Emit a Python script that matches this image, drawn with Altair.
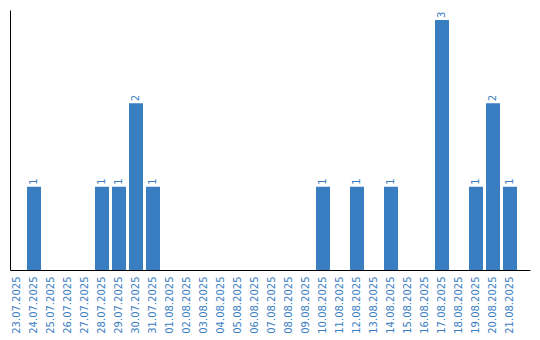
import altair as alt
import pandas as pd

dates = ["23.07.2025", "24.07.2025", "25.07.2025", "26.07.2025", "27.07.2025",
         "28.07.2025", "29.07.2025", "30.07.2025", "31.07.2025", "01.08.2025",
         "02.08.2025", "03.08.2025", "04.08.2025", "05.08.2025", "06.08.2025",
         "07.08.2025", "08.08.2025", "09.08.2025", "10.08.2025", "11.08.2025",
         "12.08.2025", "13.08.2025", "14.08.2025", "15.08.2025", "16.08.2025",
         "17.08.2025", "18.08.2025", "19.08.2025", "20.08.2025", "21.08.2025"]
counts = [0, 1, 0, 0, 0, 1, 1, 2, 1, 0,
          0, 0, 0, 0, 0, 0, 0, 0, 1, 0,
          1, 0, 1, 0, 0, 3, 0, 1, 2, 1]

df = pd.DataFrame({"date": dates, "count": counts})

BLUE = "#3a7ec2"
FONT = "DejaVu Sans"

x = alt.X("date:N", sort=dates, title=None,
          scale=alt.Scale(domain=dates, paddingInner=0.176, paddingOuter=0.382, align=0),
          axis=alt.Axis(labelAngle=-90, ticks=False, labelPadding=6, labelFont=FONT,
                        labelFontSize=10, labelColor=BLUE, domainColor="black",
                        domainWidth=1, grid=False, labelOverlap=False))
y = alt.Y("count:Q", title=None,
          scale=alt.Scale(domain=[0, 3.12], nice=False, zero=True),
          axis=alt.Axis(labels=False, ticks=False, grid=False, domainColor="black",
                        domainWidth=1))

base = alt.Chart(df)
bars = base.mark_bar(color=BLUE).encode(x=x, y=y)
text = base.transform_filter("datum.count > 0").mark_text(
    angle=270, align="left", baseline="middle", dx=2, font=FONT, fontSize=10, color=BLUE
).encode(x=x, y=y, text="count:Q")

chart = (bars + text).properties(
    width=520, height=260,
    background="white",
    autosize=alt.AutoSizeParams(type="none"),
    padding={"left": 10, "top": 10, "right": 10, "bottom": 70},
).configure_view(stroke=None)

chart.save("out.html", embed_options={"renderer": "svg", "actions": False})
